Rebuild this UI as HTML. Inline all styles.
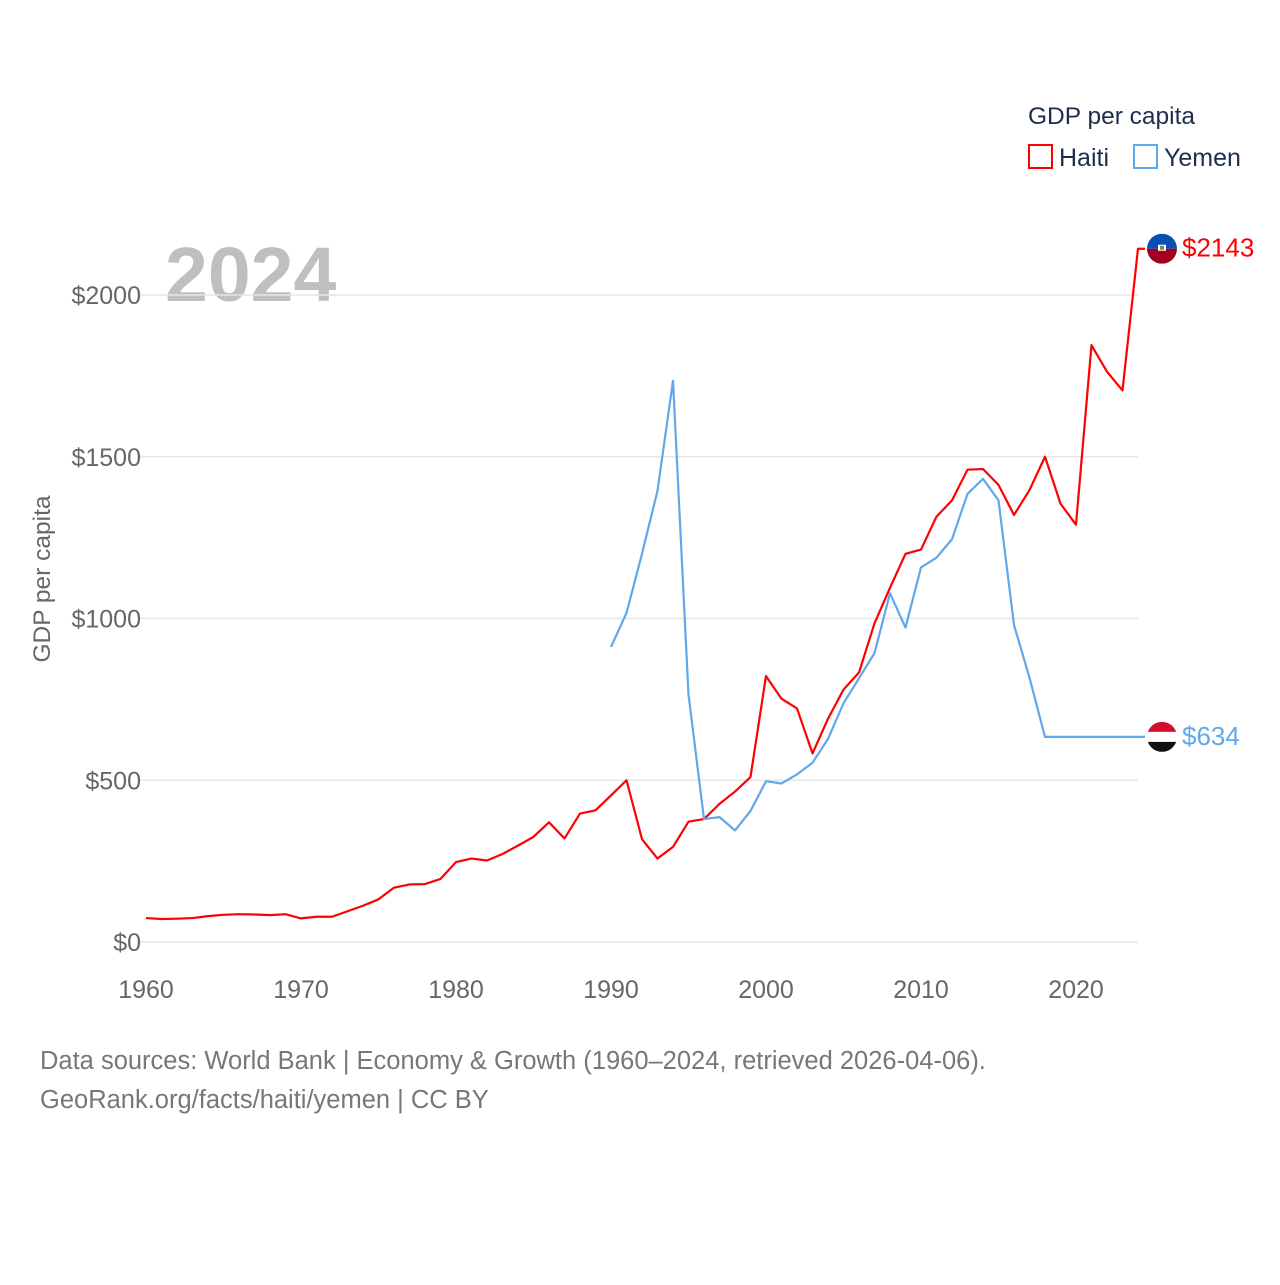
<!DOCTYPE html>
<html><head><meta charset="utf-8"><style>
body{margin:0;background:#fff;font-family:"Liberation Sans",sans-serif}
svg text{font-family:"Liberation Sans",sans-serif}
</style></head><body>
<svg width="1280" height="1280" viewBox="0 0 1280 1280">
<text x="1028" y="124" font-size="24.5" fill="#1f2d4d">GDP per capita</text>
<g><rect x="1029" y="145" width="23" height="23" fill="none" stroke="#ff0000" stroke-width="2"/><text x="1059" y="166" font-size="25" fill="#1f2d4d">Haiti</text></g>
<g><rect x="1134" y="145" width="23" height="23" fill="none" stroke="#5fa8eb" stroke-width="2"/><text x="1164" y="166" font-size="25" fill="#1f2d4d">Yemen</text></g>
<text x="165" y="301" font-size="77" font-weight="bold" fill="#bfbfbf">2024</text>
<text transform="translate(50,579) rotate(-90)" text-anchor="middle" font-size="24.5" fill="#666">GDP per capita</text>
<g id="grid"></g><g id="xt"></g><g id="lines"></g><g id="ends"></g>
<text x="40" y="1069" font-size="25.5" fill="#777">Data sources: World Bank | Economy &amp; Growth (1960–2024, retrieved 2026-04-06).</text>
<text x="40" y="1108" font-size="25.5" fill="#777">GeoRank.org/facts/haiti/yemen | CC BY</text>
</svg>
<script>
const yTicks=[0,500,1000,1500,2000];
const xTicks=[1960,1970,1980,1990,2000,2010,2020];
const haitiStart=1960;
const haiti=[74,71,72,74,80,84,86,85,83,86,73,78,78,95,112,132,168,178,179,195,247,258,252,272,298,325,370,320,397,407,453,500,318,258,294,372,380,427,465,510,822,752,722,583,690,780,833,985,1095,1200,1213,1315,1365,1460,1462,1413,1320,1397,1500,1355,1290,1845,1763,1705,2143];
const yemenStart=1990;
const yemen=[912,1017,1200,1395,1735,765,380,386,345,405,497,490,518,554,628,738,815,893,1078,972,1158,1188,1245,1385,1432,1365,980,817,634,634,634,634,634,634,634];
const X=y=>146+(y-1960)*15.5;
const Y=v=>942-v*0.3235;
const ns="http://www.w3.org/2000/svg";
function mk(t,a,p){const e=document.createElementNS(ns,t);for(const k in a)e.setAttribute(k,a[k]);p.appendChild(e);return e;}
const grid=document.getElementById('grid');
yTicks.forEach(v=>{
 const l=mk('line',{x1:140,x2:1138,y1:Y(v),y2:Y(v),stroke:'#e6e6e6','stroke-width':1.5},grid);
 
 
 const t=mk('text',{x:141,y:Y(v)+9,'text-anchor':'end','font-size':25,fill:'#666'},grid);
 t.textContent='$'+v;
 
 
});
const xt=document.getElementById('xt');
xTicks.forEach(y=>{
 const t=mk('text',{x:X(y),y:998,'text-anchor':'middle','font-size':25,fill:'#666'},xt);
 t.textContent=y;
 
 
});
const lines=document.getElementById('lines');
function pts(arr,s){return arr.map((v,i)=>X(s+i)+','+Y(v)).join(' ');}
const hl=mk('polyline',{points:pts(haiti,haitiStart)+' 1145,'+Y(haiti[haiti.length-1]),fill:'none',stroke:'#ff0000','stroke-width':2.2,'stroke-linejoin':'round'},lines);


const yl=mk('polyline',{points:pts(yemen,yemenStart)+' 1145,'+Y(yemen[yemen.length-1]),fill:'none',stroke:'#5fa8eb','stroke-width':2.2,'stroke-linejoin':'round'},lines);


const ends=document.getElementById('ends');
function flag(cy,top,bot,mid,name){
 const g=mk('g',{},ends);
 
 
 const cx=1162;
 const cp=mk('clipPath',{id:name+'c'},g);
 mk('circle',{cx:cx,cy:cy,r:15},cp);
 const gg=mk('g',{'clip-path':'url(#'+name+'c)'},g);
 if(mid){mk('rect',{x:cx-15,y:cy-15,width:30,height:10,fill:top},gg);mk('rect',{x:cx-15,y:cy-5,width:30,height:10,fill:mid},gg);mk('rect',{x:cx-15,y:cy+5,width:30,height:10,fill:bot},gg);}
 else{mk('rect',{x:cx-15,y:cy-15,width:30,height:15,fill:top},gg);mk('rect',{x:cx-15,y:cy,width:30,height:15,fill:bot},gg);mk('rect',{x:cx-4,y:cy-4,width:8,height:6,fill:'#fff'},gg);mk('rect',{x:cx-2,y:cy-3,width:4,height:4,fill:'#7a8a3a'},gg);}
}
const hv=haiti[haiti.length-1], yv=yemen[yemen.length-1];
flag(Y(hv),'#0a4fb5','#a30020',null,'haiti-flag');
flag(Y(yv),'#d0102b','#111111','#ffffff','yemen-flag');
const t1=mk('text',{x:1182,y:Y(hv)+8,'font-size':26,fill:'#ff0000'},ends);
t1.textContent='$'+hv;


const t2=mk('text',{x:1182,y:Y(yv)+8,'font-size':26,fill:'#5fa8eb'},ends);
t2.textContent='$'+yv;


</script>
</body></html>
